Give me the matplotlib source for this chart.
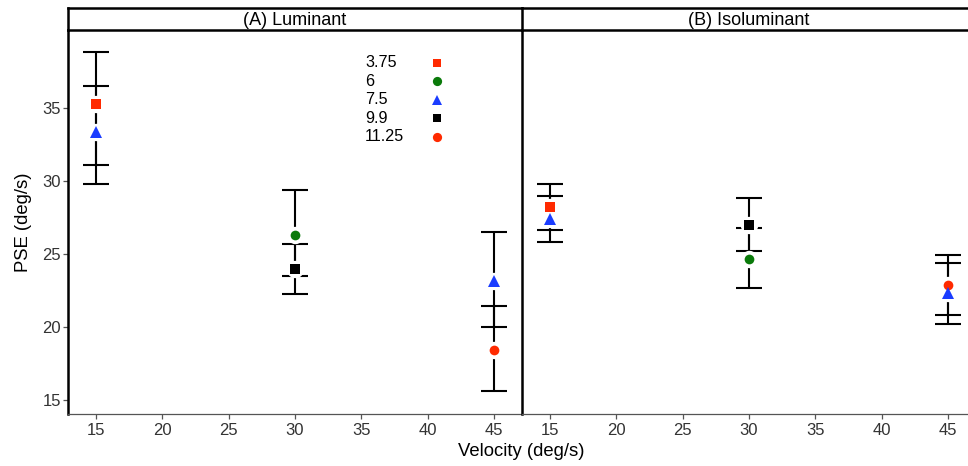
import matplotlib
matplotlib.use('Agg')
import matplotlib.pyplot as plt

plt.rcParams['font.family'] = ['Liberation Sans', 'DejaVu Sans']

# frequency groups (legend) and their styles
groups = ['3.75', '6', '7.5', '9.9', '11.25']
colors = {'3.75': '#ff2a00', '6': '#0a7a0a', '7.5': '#1a3cff',
          '9.9': '#000000', '11.25': '#ff2a00'}
markers = {'3.75': 's', '6': 'o', '7.5': '^', '9.9': 's', '11.25': 'o'}
msizes = {'s': 6.5, 'o': 7.0, '^': 8.0}

panels = ['(A) Luminant', '(B) Isoluminant']

# data: velocity, group, PSE, lower, upper
lum_vel = [15, 15, 30, 30, 45, 45]
lum_grp = ['3.75', '7.5', '6', '9.9', '7.5', '11.25']
lum_pse = [35.24, 33.35, 26.28, 23.94, 23.14, 18.40]
lum_lo = [31.07, 29.77, 23.48, 22.27, 20.01, 15.62]
lum_hi = [38.79, 36.47, 29.36, 25.65, 26.51, 21.45]

iso_vel = [15, 15, 30, 30, 45, 45]
iso_grp = ['3.75', '7.5', '9.9', '6', '11.25', '7.5']
iso_pse = [28.18, 27.41, 26.97, 24.64, 22.86, 22.32]
iso_lo = [26.62, 25.82, 25.19, 22.68, 20.81, 20.22]
iso_hi = [29.77, 28.95, 28.83, 26.78, 24.89, 24.39]

xticks = [15, 20, 25, 30, 35, 40, 45]
yticks = [15, 20, 25, 30, 35]

W, H = 968, 466
fig = plt.figure(figsize=(W / 100, H / 100), dpi=100)

px0, pw = 68, 454
ptop, pbot = 30, 414
stop = 8

data = [(lum_vel, lum_grp, lum_pse, lum_lo, lum_hi),
        (iso_vel, iso_grp, iso_pse, iso_lo, iso_hi)]

axes = []
for i, (title, (vel, grp, pse, lo, hi)) in enumerate(zip(panels, data)):
    left = (px0 + i * pw) / W
    ax = fig.add_axes([left, (H - pbot) / H, pw / W, (pbot - ptop) / H])
    axes.append(ax)

    # error bars
    for v, y, l, h in zip(vel, pse, lo, hi):
        ax.errorbar([v], [y], yerr=[[y - l], [h - y]], fmt='none',
                    ecolor='black', elinewidth=1.5, capsize=9.6,
                    capthick=1.5, zorder=2)
    # white halo around points
    for v, y in zip(vel, pse):
        ax.plot(v, y, 'o', color='white', markersize=12.5,
                markeredgewidth=0, zorder=3)
    for v, g, y in zip(vel, grp, pse):
        m = markers[g]
        ax.plot(v, y, m, color=colors[g], markersize=msizes[m],
                markeredgewidth=0, zorder=4)

    ax.set_xlim(12.9, 47.1)
    ax.set_ylim(14.02, 40.33)
    ax.set_xticks(xticks)
    ax.set_yticks(yticks)
    ax.tick_params(axis='both', colors='#555555', labelcolor='#333333',
                   labelsize=12, length=3.5, width=0.9)
    ax.tick_params(axis='x', pad=3)
    ax.tick_params(axis='y', pad=1.5)
    for s in ['top', 'right']:
        ax.spines[s].set_visible(False)
    ax.spines['left'].set_linewidth(1.8)
    ax.spines['left'].set_color('black')
    ax.spines['bottom'].set_linewidth(0.9)
    ax.spines['bottom'].set_color('#555555')
    if i == 1:
        ax.tick_params(axis='y', left=False, labelleft=False)

    # facet strip
    sax = fig.add_axes([left, (H - ptop) / H, pw / W, (ptop - stop) / H])
    sax.set_xticks([])
    sax.set_yticks([])
    sax.spines['right'].set_visible(False)
    for s in ['top', 'bottom', 'left']:
        sax.spines[s].set_linewidth(1.8)
    sax.text(0.5, 0.45, title, ha='center', va='center', fontsize=13,
             transform=sax.transAxes)

# legend drawn inside the left panel
ax = axes[0]
for k, g in enumerate(groups):
    yy = 0.915 - k * 0.0483
    ax.text(0.654, yy, g, ha='left', va='center', fontsize=11.6,
            transform=ax.transAxes)
    m = markers[g]
    ax.plot(0.812, yy, m, color=colors[g], markersize=msizes[m] * 0.95,
            markeredgewidth=0, transform=ax.transAxes, clip_on=False)

fig.text(521 / W, (H - 452) / H, 'Velocity (deg/s)', ha='center',
         va='center', fontsize=13.3)
fig.text(24 / W, (H - 222) / H, 'PSE (deg/s)', ha='center', va='center',
         rotation=90, fontsize=13.3)

fig.savefig('out.png', dpi=100)
